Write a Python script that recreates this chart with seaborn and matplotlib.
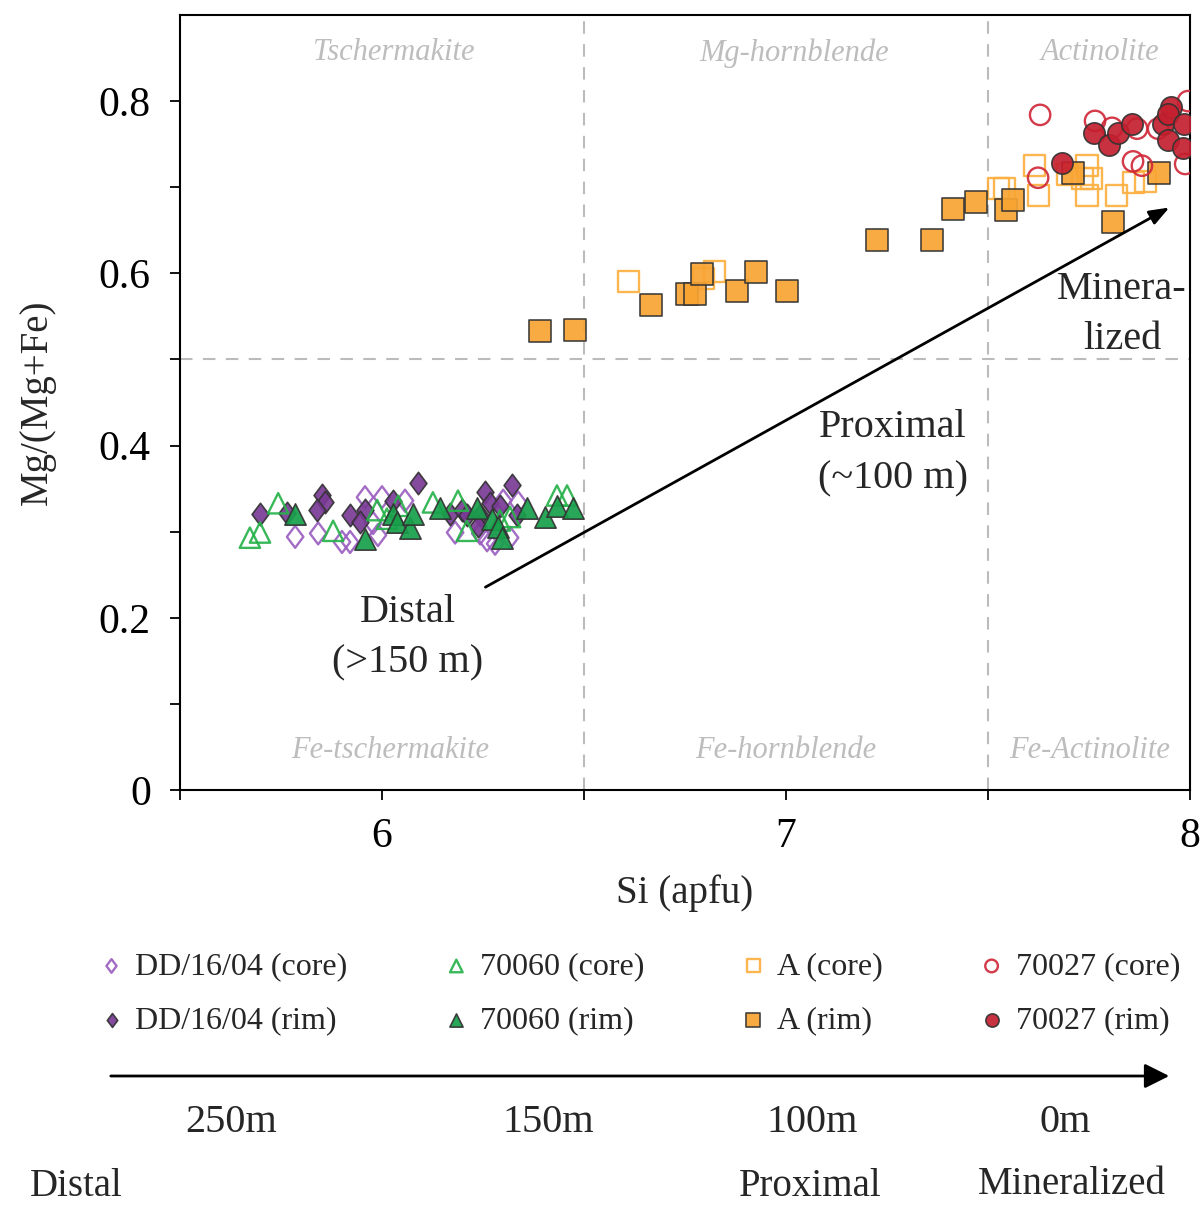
import numpy as np
import matplotlib
matplotlib.use("Agg")
import matplotlib.pyplot as plt
from matplotlib.path import Path
from matplotlib.patches import FancyArrowPatch
import seaborn as sns

# --- data (Si apfu, Mg/(Mg+Fe)) ---
dd_core_si = [5.785, 5.842, 5.901, 5.921, 5.958, 6.000, 5.978, 5.990, 6.057,
              6.181, 6.243, 6.260, 6.280, 6.300, 6.337, 6.317]
dd_core_mg = [0.294, 0.298, 0.288, 0.288, 0.340, 0.340, 0.310, 0.296, 0.336,
              0.299, 0.298, 0.290, 0.286, 0.336, 0.334, 0.293]

dd_rim_si = [5.698, 5.765, 5.851, 5.859, 5.839, 5.921, 5.958, 5.946, 6.027, 6.089,
             6.168, 6.198, 6.210, 6.255, 6.267, 6.292, 6.243, 6.238, 6.322, 6.334]
dd_rim_mg = [0.321, 0.322, 0.342, 0.334, 0.325, 0.319, 0.325, 0.311, 0.336, 0.356,
             0.321, 0.325, 0.319, 0.346, 0.333, 0.330, 0.319, 0.307, 0.354, 0.319]

g_core_si = [5.673, 5.698, 5.743, 5.879, 5.988, 6.012, 6.040, 6.126, 6.188,
             6.210, 6.317, 6.433, 6.458, 6.292]
g_core_mg = [0.293, 0.299, 0.333, 0.301, 0.325, 0.315, 0.330, 0.334, 0.336,
             0.301, 0.317, 0.342, 0.342, 0.313]

g_rim_si = [5.785, 5.958, 6.027, 6.037, 6.069, 6.077, 6.144, 6.235, 6.272,
            6.287, 6.297, 6.359, 6.403, 6.433, 6.473]
g_rim_mg = [0.321, 0.292, 0.321, 0.311, 0.304, 0.321, 0.327, 0.327, 0.315,
            0.305, 0.293, 0.327, 0.317, 0.330, 0.328]

a_core_si = [6.611, 6.795, 6.824, 7.616, 7.525, 7.542, 7.624, 7.696, 7.745,
             7.733, 7.757, 7.745, 7.819, 7.859, 7.889]
a_core_mg = [0.590, 0.594, 0.602, 0.725, 0.698, 0.698, 0.690, 0.715, 0.725,
             0.710, 0.710, 0.690, 0.690, 0.705, 0.707]

a_rim_si = [6.391, 6.478, 6.666, 6.755, 6.775, 6.792, 6.879, 6.926, 7.002,
            7.225, 7.361, 7.413, 7.470, 7.545, 7.562, 7.710, 7.809, 7.923]
a_rim_mg = [0.533, 0.534, 0.563, 0.576, 0.576, 0.599, 0.579, 0.601, 0.580,
            0.639, 0.639, 0.675, 0.683, 0.674, 0.685, 0.717, 0.660, 0.717]

r_core_si = [7.629, 7.765, 7.807, 7.869, 7.859, 7.881, 7.921, 7.995, 7.988, 7.624]
r_core_mg = [0.784, 0.777, 0.769, 0.768, 0.730, 0.725, 0.768, 0.800, 0.727, 0.711]

r_rim_si = [7.683, 7.762, 7.800, 7.822, 7.856, 7.933, 7.953, 7.946, 7.946, 7.985, 7.983]
r_rim_mg = [0.728, 0.763, 0.749, 0.763, 0.773, 0.773, 0.793, 0.785, 0.755, 0.773, 0.746]

region_names = ["Tschermakite", "Mg-hornblende", "Actinolite",
                "Fe-tschermakite", "Fe-hornblende", "Fe-Actinolite"]
distance_labels = ["250m", "150m", "100m", "0m"]

sns.set_style("ticks")
plt.rcParams['font.family'] = ['Liberation Serif', 'DejaVu Serif']

fig = plt.figure(figsize=(12.04, 12.09), dpi=100)
ax = fig.add_axes([180 / 1204, 1 - 790 / 1209, 1010 / 1204, 775 / 1209])

diamond = Path([(0, 1), (0.75, 0), (0, -1), (-0.75, 0), (0, 1)],
               [Path.MOVETO, Path.LINETO, Path.LINETO, Path.LINETO, Path.CLOSEPOLY])

edge = '#333333'
series = [
    (dd_core_si, dd_core_mg, "DD/16/04 (core)", diamond, 'none', '#9B5FC0', 250),
    (dd_rim_si, dd_rim_mg, "DD/16/04 (rim)", diamond, '#7A3A96', edge, 260),
    (g_core_si, g_core_mg, "70060 (core)", '^', 'none', '#27B24A', 215),
    (g_rim_si, g_rim_mg, "70060 (rim)", '^', '#17A04A', edge, 235),
    (a_core_si, a_core_mg, "A (core)", 's', 'none', '#FBB040', 230),
    (a_rim_si, a_rim_mg, "A (rim)", 's', '#F8A432', edge, 270),
    (r_core_si, r_core_mg, "70027 (core)", 'o', 'none', '#D02A3A', 215),
    (r_rim_si, r_rim_mg, "70027 (rim)", 'o', '#C41F2E', edge, 235),
]

for xs, ys, lab, mk, fc, ec, size in series:
    lw = 1.7 if fc == 'none' else 1.2
    sns.scatterplot(x=xs, y=ys, marker=mk, s=size, color=ec, facecolor=fc,
                    edgecolor=ec, linewidth=lw, alpha=0.92, ax=ax, label=lab,
                    legend=False, zorder=3)

# classification boundaries
for xv in [6.5, 7.5]:
    ax.axvline(xv, color='#BBBBBB', ls=(0, (6, 5)), lw=1.5, zorder=1)
ax.axhline(0.5, color='#BBBBBB', ls=(0, (6, 5)), lw=1.5, zorder=1)

region_pos = [(6.03, 0.856), (7.02, 0.856), (7.777, 0.856),
              (6.02, 0.046), (7.0, 0.046), (7.752, 0.046)]
for name, (rx, ry) in zip(region_names, region_pos):
    ax.text(rx, ry, name, fontsize=22, style='italic', color='#BDBDBD',
            ha='center', va='center', zorder=2)

# trend arrow and labels
ax.annotate("", xy=(7.955, 0.678), xytext=(6.25, 0.234),
            arrowprops=dict(arrowstyle='-|>,head_length=1.2,head_width=0.45',
                            color='black', lw=2), zorder=4)
ax.text(6.064, 0.177, "Distal\n(>150 m)", fontsize=29, ha='center', va='center',
        linespacing=1.5)
ax.text(7.265, 0.391, "Proximal\n(~100 m)", fontsize=29, ha='center', va='center',
        linespacing=1.5)
ax.text(7.832, 0.552, "Minera-\nlized", fontsize=29, ha='center', va='center',
        linespacing=1.45)

ax.set_xlim(5.5, 8)
ax.set_ylim(0, 0.9)
ax.set_xticks([5.5, 6, 6.5, 7, 7.5, 8])
ax.set_xticklabels(["", "6", "", "7", "", "8"])
ax.set_yticks(np.arange(0, 0.81, 0.1))
ax.set_yticklabels(["0", "", "0.2", "", "0.4", "", "0.6", "", "0.8"])
ax.tick_params(direction='out', length=7, width=1.3, labelsize=30, colors='black')
ax.tick_params(axis='y', pad=14)
ax.tick_params(axis='x', pad=13)
for sp in ax.spines.values():
    sp.set_linewidth(1.5)
    sp.set_color('black')
ax.set_xlabel("Si (apfu)", fontsize=28, labelpad=13)
ax.set_ylabel("Mg/(Mg+Fe)", fontsize=28, labelpad=31)

h, l = ax.get_legend_handles_labels()
fig.legend(h, l, loc='center', bbox_to_anchor=(0.531, 0.178), ncol=4, frameon=False,
           fontsize=23, markerscale=0.62, handlelength=0.8, handletextpad=0.35,
           columnspacing=3.0, labelspacing=0.78)

# distance scale bar below the legend
fig.add_artist(FancyArrowPatch(
    (108 / 1204, 1 - 1076 / 1209), (1172 / 1204, 1 - 1076 / 1209),
    transform=fig.transFigure, arrowstyle='-|>,head_length=10,head_width=5',
    mutation_scale=1.5, color='black', lw=2))
for lab, px in zip(distance_labels, [231, 548, 812, 1065]):
    fig.text(px / 1204, 1 - 1122 / 1209, lab, fontsize=29, ha='center', va='center')
fig.text(30 / 1204, 1 - 1186 / 1209, "Distal", fontsize=28, ha='left', va='center')
fig.text(810 / 1204, 1 - 1186 / 1209, "Proximal", fontsize=28, ha='center', va='center')
fig.text(1072 / 1204, 1 - 1184 / 1209, "Mineralized", fontsize=28, ha='center', va='center')

fig.savefig("out.png", dpi=100)
